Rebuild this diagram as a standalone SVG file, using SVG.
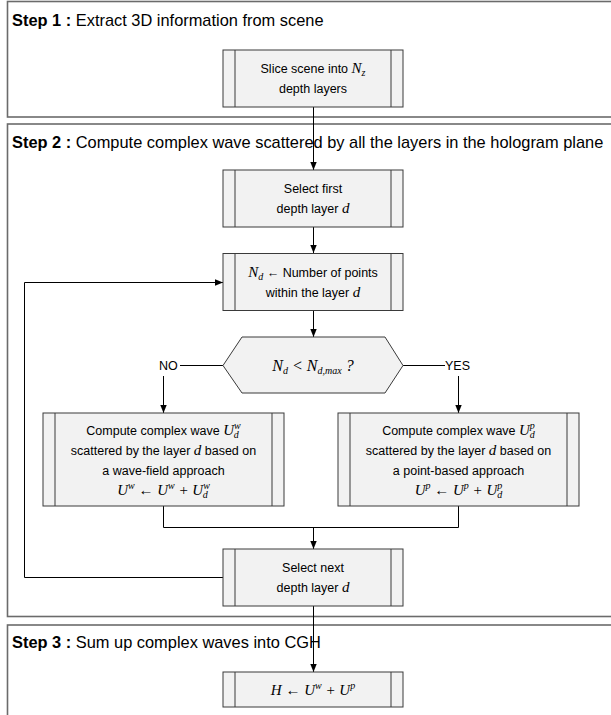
<svg xmlns="http://www.w3.org/2000/svg" width="611" height="715" viewBox="0 0 611 715">
<defs>
<marker id="arr" markerUnits="userSpaceOnUse" markerWidth="8" markerHeight="8" viewBox="0 0 8 8" refX="8" refY="4" orient="auto">
<path d="M0,0.8 L8,4 L0,7.2 Z" fill="#000"/>
</marker>
<style>
.step{fill:#fff;stroke:#6b6b6b;stroke-width:1.6}
.node{fill:#f2f2f2;stroke:#3a3a3a;stroke-width:1}
.bar{stroke:#3a3a3a;stroke-width:1}
.st{font-family:"Liberation Sans",Arial,sans-serif;font-size:16.4px;fill:#000}
.st .b{font-weight:bold}
.t{font-family:"Liberation Sans",Arial,sans-serif;font-size:12.5px;fill:#000;text-anchor:middle}
.m{font-family:"Liberation Serif","Times New Roman",serif;font-style:italic;font-size:15px}
.mh{font-family:"Liberation Serif","Times New Roman",serif;font-style:italic;font-size:16px}
.s{font-family:"Liberation Serif","Times New Roman",serif;font-style:italic;font-size:10px}
.lab{font-family:"Liberation Sans",Arial,sans-serif;font-size:12.5px;fill:#000}
.c{fill:none;stroke:#000;stroke-width:1}
</style>
</defs>

<g id="step1">
<rect class="step" x="7.5" y="1.5" width="606" height="115.5"/>
<text class="st" x="12" y="25.5"><tspan class="b">Step 1 :</tspan> Extract 3D information from scene</text>
</g>
<g id="step2">
<rect class="step" x="7.5" y="124" width="606" height="492.5"/>
<text class="st" x="12" y="148"><tspan class="b">Step 2 :</tspan> Compute complex wave scattered by all the layers in the hologram plane</text>
</g>
<g id="step3">
<rect class="step" x="7.5" y="625" width="606" height="100"/>
<text class="st" x="12" y="648"><tspan class="b">Step 3 :</tspan> Sum up complex waves into CGH</text>
</g>

<g id="connectors">
<path class="c" d="M313.5,107 V170" marker-end="url(#arr)"/>
<path class="c" d="M313.5,227 V253" marker-end="url(#arr)"/>
<path class="c" d="M313.5,311 V337" marker-end="url(#arr)"/>
<path class="c" d="M223,365.5 H180"/>
<path class="c" d="M163.5,376 V413" marker-end="url(#arr)"/>
<path class="c" d="M403,365.5 H445"/>
<path class="c" d="M458.5,376 V413" marker-end="url(#arr)"/>
<path class="c" d="M163.5,506 V527.5 H458.5 V506"/>
<path class="c" d="M313.5,527.5 V549" marker-end="url(#arr)"/>
<path class="c" d="M223,577.5 H24.5 V282.5 H223" marker-end="url(#arr)"/>
<path class="c" d="M313.5,606 V672" marker-end="url(#arr)"/>
<text class="lab" x="159" y="370">NO</text>
<text class="lab" x="445" y="370">YES</text>
</g>

<g id="n1">
<rect class="node" x="223" y="50" width="180" height="57"/>
<path class="bar" d="M235,50 V107 M391,50 V107"/>
<text class="t" x="313" y="73">Slice scene into <tspan class="m">N</tspan><tspan class="s" dy="3">z</tspan></text>
<text class="t" x="313" y="93">depth layers</text>
</g>

<g id="n2">
<rect class="node" x="223" y="170" width="180" height="57"/>
<path class="bar" d="M235,170 V227 M391,170 V227"/>
<text class="t" x="313" y="193">Select first</text>
<text class="t" x="313" y="213">depth layer <tspan class="m">d</tspan></text>
</g>

<g id="n3">
<rect class="node" x="223" y="253.5" width="180" height="57"/>
<path class="bar" d="M235,253.5 V310.5 M391,253.5 V310.5"/>
<text class="t" x="313" y="276.5"><tspan class="m">N</tspan><tspan class="s" dy="3">d</tspan><tspan dy="-3"> ← Number of points</tspan></text>
<text class="t" x="313" y="296.5">within the layer <tspan class="m">d</tspan></text>
</g>

<g id="dec">
<path class="node" d="M223,365.5 L242,337 H385 L403,365.5 L385,393 H242 Z"/>
<text class="t" x="313" y="371"><tspan class="mh">N</tspan><tspan class="s" dy="3">d</tspan><tspan class="mh" dy="-3">  &lt;  N</tspan><tspan class="s" dy="3">d,max</tspan><tspan class="mh" dy="-3">  ?</tspan></text>
</g>

<g id="nw">
<rect class="node" x="43" y="413" width="241" height="93"/>
<path class="bar" d="M55,413 V506 M272,413 V506"/>
<text class="t" x="163.5" y="435">Compute complex wave <tspan class="m">U</tspan><tspan class="s" dy="-6">w</tspan><tspan class="s" dx="-7" dy="9">d</tspan></text>
<text class="t" x="163.5" y="455">scattered by the layer <tspan class="m">d</tspan> based on</text>
<text class="t" x="163.5" y="475">a wave-field approach</text>
<text class="t" x="163.5" y="495"><tspan class="m">U</tspan><tspan class="s" dy="-6">w</tspan><tspan class="m" dy="6"> ← U</tspan><tspan class="s" dy="-6">w</tspan><tspan class="m" dy="6"> + U</tspan><tspan class="s" dy="-6">w</tspan><tspan class="s" dx="-7" dy="9">d</tspan></text>
</g>

<g id="np">
<rect class="node" x="338" y="413" width="241" height="93"/>
<path class="bar" d="M350,413 V506 M567,413 V506"/>
<text class="t" x="458.5" y="435">Compute complex wave <tspan class="m">U</tspan><tspan class="s" dy="-6">p</tspan><tspan class="s" dx="-5" dy="9">d</tspan></text>
<text class="t" x="458.5" y="455">scattered by the layer <tspan class="m">d</tspan> based on</text>
<text class="t" x="458.5" y="475">a point-based approach</text>
<text class="t" x="458.5" y="495"><tspan class="m">U</tspan><tspan class="s" dy="-6">p</tspan><tspan class="m" dy="6"> ← U</tspan><tspan class="s" dy="-6">p</tspan><tspan class="m" dy="6"> + U</tspan><tspan class="s" dy="-6">p</tspan><tspan class="s" dx="-5" dy="9">d</tspan></text>
</g>

<g id="n4">
<rect class="node" x="223" y="549" width="180" height="57"/>
<path class="bar" d="M235,549 V606 M391,549 V606"/>
<text class="t" x="313" y="572">Select next</text>
<text class="t" x="313" y="592">depth layer <tspan class="m">d</tspan></text>
</g>

<g id="n5">
<rect class="node" x="223" y="672" width="180" height="35"/>
<path class="bar" d="M235,672 V707 M391,672 V707"/>
<text class="t" x="313" y="694.5"><tspan class="m">H</tspan><tspan class="m"> ← U</tspan><tspan class="s" dy="-6">w</tspan><tspan class="m" dy="6"> + U</tspan><tspan class="s" dy="-6">p</tspan></text>
</g>
</svg>
